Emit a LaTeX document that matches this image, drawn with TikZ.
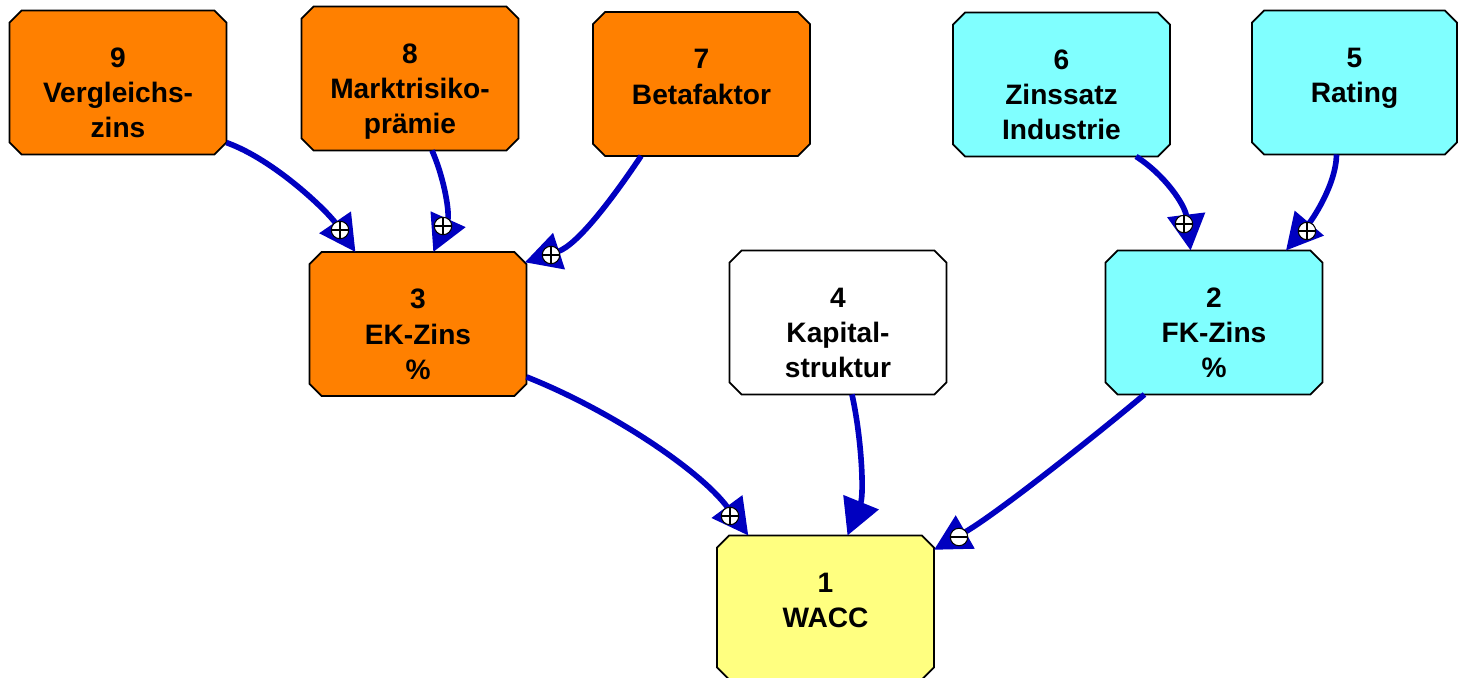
\documentclass[tikz,border=0pt]{standalone}
\usepackage{fontspec}
\setmainfont{Liberation Sans}
\usetikzlibrary{shapes.misc,arrows.meta}
\definecolor{ekorange}{RGB}{255,128,0}
\definecolor{fkcyan}{RGB}{128,255,255}
\definecolor{waccyellow}{RGB}{255,255,128}
\definecolor{flowblue}{RGB}{0,0,192}
\newcommand{\boxlines}[1]{\begin{tabular}[t]{@{}c@{}}#1\end{tabular}}
\tikzset{
  block/.style={chamfered rectangle, chamfered rectangle xsep=0.12cm,
    chamfered rectangle ysep=0.12cm, draw=black, line width=1pt,
    inner sep=0pt, outer sep=0pt, minimum width=4.34cm, minimum height=2.88cm,
    text height=0.4cm, text depth=1cm,
    font=\fontsize{16}{20}\selectfont\bfseries},
  ekbox/.style={block, fill=ekorange},
  fkbox/.style={block, fill=fkcyan},
  plainbox/.style={block, fill=white},
  waccbox/.style={block, fill=waccyellow},
  flow/.style={draw=flowblue, line width=3.2pt,
    -{Triangle[length=0.72cm,width=0.74cm]}},
  possign/.style={circle, draw=black, fill=white, line width=0.6pt,
    minimum size=0.35cm, inner sep=0pt,
    path picture={\draw[line width=0.6pt]
      (path picture bounding box.north) -- (path picture bounding box.south)
      (path picture bounding box.west) -- (path picture bounding box.east);}},
  negsign/.style={circle, draw=black, fill=white, line width=0.6pt,
    minimum size=0.35cm, inner sep=0pt,
    path picture={\draw[line width=0.6pt]
      (path picture bounding box.west) -- (path picture bounding box.east);}}
}
\begin{document}
\begin{tikzpicture}[x=0.02cm,y=-0.02cm]
  \useasboundingbox (0,0) rectangle (1458,678);
  \node[ekbox] (n9) at (118,82.5) {\boxlines{9\\Vergleichs-\\zins}};
  \node[ekbox] (n8) at (410,78.5) {\boxlines{8\\Marktrisiko-\\prämie}};
  \node[ekbox] (n7) at (701.5,84) {\boxlines{7\\Betafaktor}};
  \node[fkbox] (n6) at (1061.5,84.5) {\boxlines{6\\Zinssatz\\Industrie}};
  \node[fkbox, minimum width=4.1cm] (n5) at (1354.5,82.5) {\boxlines{5\\Rating}};
  \node[ekbox] (n3) at (418,324) {\boxlines{3\\EK-Zins\\\%}};
  \node[plainbox] (n4) at (838,322.5) {\boxlines{4\\Kapital-\\struktur}};
  \node[fkbox] (n2) at (1214,322.5) {\boxlines{2\\FK-Zins\\\%}};
  \node[waccbox] (n1) at (825.5,607.5) {\boxlines{1\\WACC}};
  \begin{scope}[flow]
    \draw (n9.-29) .. controls (275,160) and (328,212) .. (n3.131);
    \draw (n8.-73) .. controls (445,180) and (450,215) .. (n3.78);
    \draw (n7.-130) .. controls (615,195) and (578,245) .. (n3.30);
    \draw (n6.-44) .. controls (1165,175) and (1185,205) .. (n2.108);
    \draw (n5.-104) .. controls (1336,185) and (1312,220) .. (n2.45);
    \draw (n3.-26) .. controls (610,410) and (700,470) .. (n1.137);
    \draw (n4.-79) .. controls (862,440) and (864,495) .. (n1.73);
    \draw (n2.-134) .. controls (1090,440) and (995,515) .. (n1.28);
  \end{scope}
  \node[possign] (s93) at (340,230) {};
  \node[possign] (s83) at (443,226) {};
  \node[possign] (s73) at (551,255) {};
  \node[possign] (s62) at (1184,224) {};
  \node[possign] (s52) at (1307,231) {};
  \node[possign] (s31) at (730,516) {};
  \node[negsign] (s21) at (959,537) {};
\end{tikzpicture}
\end{document}
